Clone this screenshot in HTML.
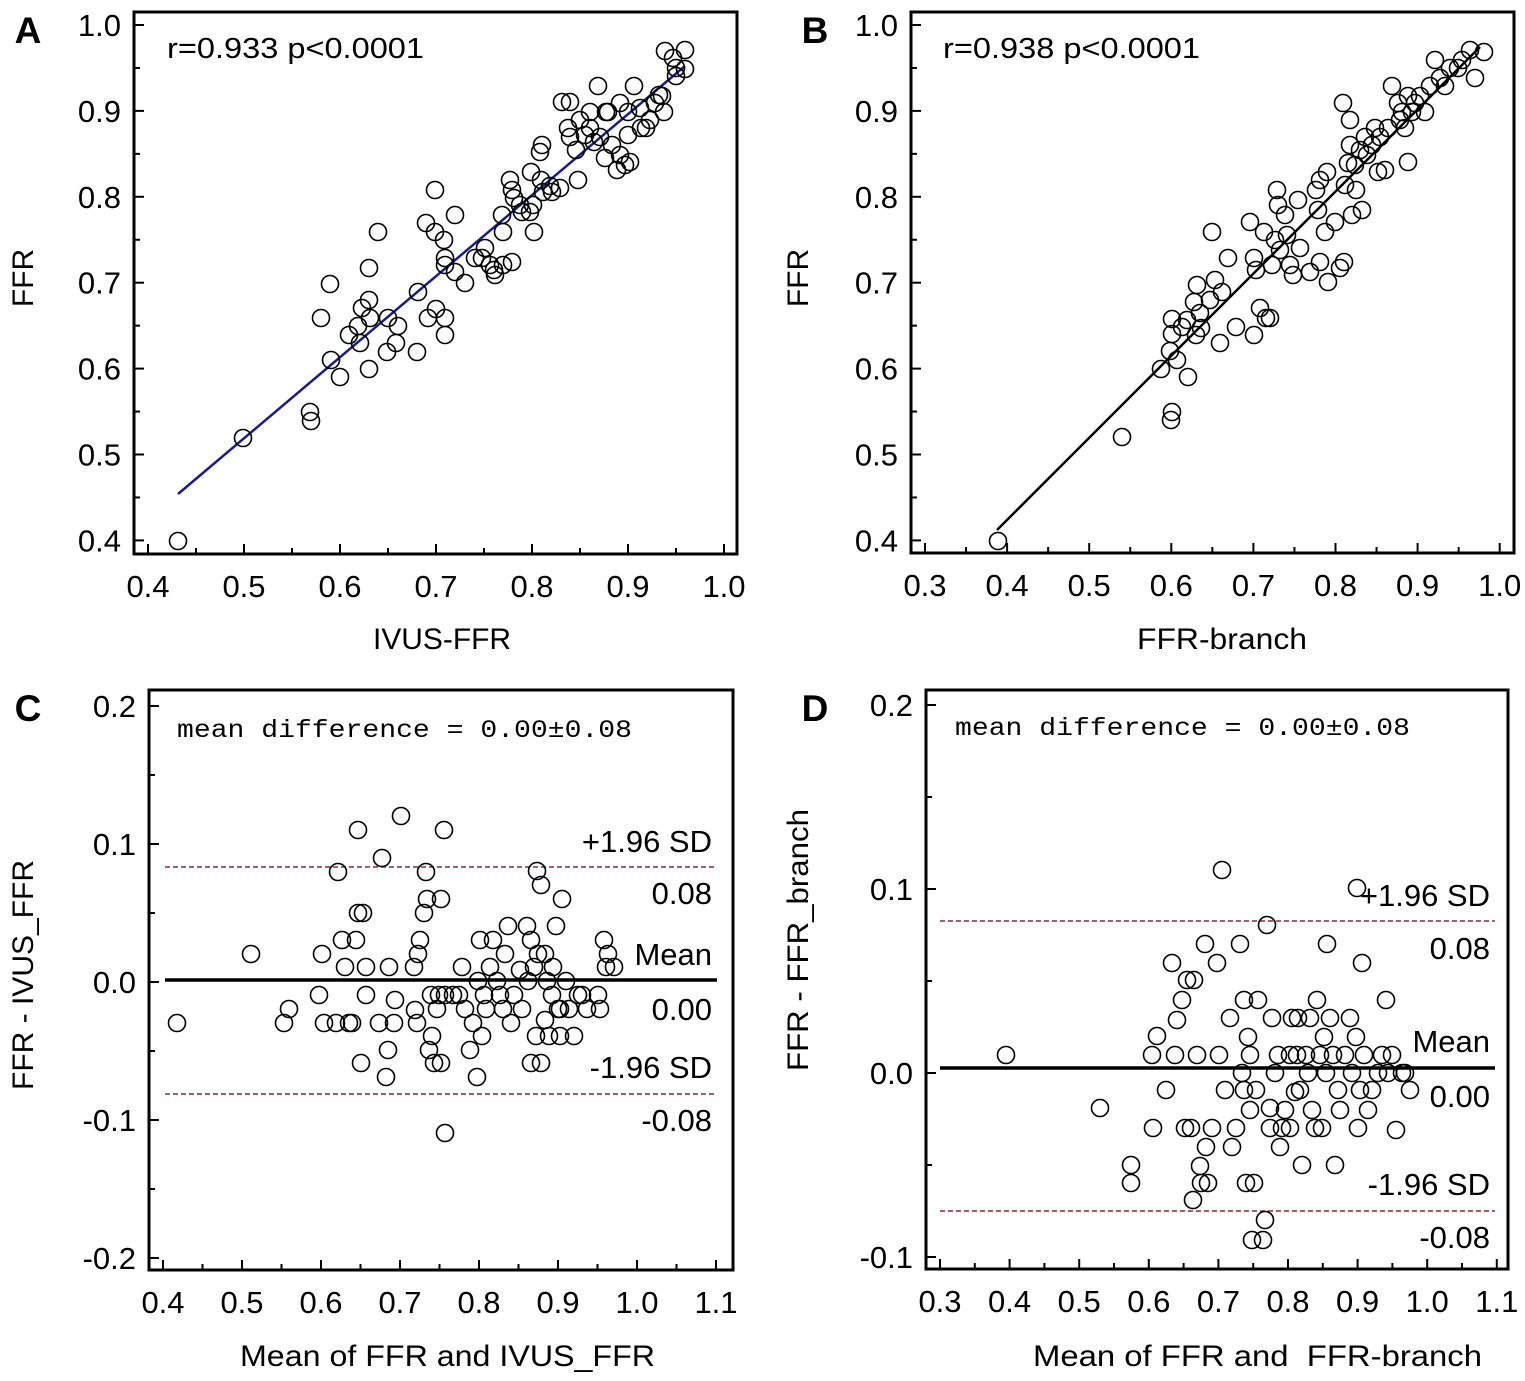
<!DOCTYPE html>
<html><head><meta charset="utf-8"><style>
html,body{margin:0;padding:0;background:#fff}
svg{display:block}
text{font-family:"Liberation Sans",sans-serif;fill:#000}
</style></head><body>
<svg id="s" width="1525" height="1381" viewBox="0 0 1525 1381" xmlns="http://www.w3.org/2000/svg">
<g font-size="30">
<text x="28" y="43" font-weight="bold" font-size="37" text-anchor="middle">A</text>
<text x="815" y="43" font-weight="bold" font-size="37" text-anchor="middle">B</text>
<text x="28" y="721" font-weight="bold" font-size="37" text-anchor="middle">C</text>
<text x="815" y="721" font-weight="bold" font-size="37" text-anchor="middle">D</text>
<text x="373" y="649" textLength="138" lengthAdjust="spacingAndGlyphs">IVUS-FFR</text>
<text x="1137" y="649" textLength="170" lengthAdjust="spacingAndGlyphs">FFR-branch</text>
<text x="240" y="1366" textLength="415" lengthAdjust="spacingAndGlyphs">Mean of FFR and IVUS_FFR</text>
<text x="1033" y="1366" xml:space="preserve" textLength="449" lengthAdjust="spacingAndGlyphs">Mean of FFR and  FFR-branch</text>
<text transform="translate(33,278) rotate(-90)" text-anchor="middle">FFR</text>
<text transform="translate(808,278) rotate(-90)" text-anchor="middle">FFR</text>
<text transform="translate(33,975) rotate(-90)" text-anchor="middle" textLength="230" lengthAdjust="spacingAndGlyphs">FFR - IVUS_FFR</text>
<text transform="translate(808,940) rotate(-90)" text-anchor="middle" textLength="262" lengthAdjust="spacingAndGlyphs">FFR - FFR_branch</text>
<text x="167" y="58" font-size="29" textLength="257" lengthAdjust="spacingAndGlyphs">r=0.933 p&lt;0.0001</text>
<text x="943" y="58" font-size="29" textLength="257" lengthAdjust="spacingAndGlyphs">r=0.938 p&lt;0.0001</text>
</g>
<g font-size="25">
<text x="177" y="737" style="font-family:'Liberation Mono',monospace" textLength="455" lengthAdjust="spacingAndGlyphs">mean difference = 0.00±0.08</text>
<text x="955" y="735" style="font-family:'Liberation Mono',monospace" textLength="455" lengthAdjust="spacingAndGlyphs">mean difference = 0.00±0.08</text>
</g>
<g font-size="31" text-anchor="end">
<text x="712" y="852">+1.96 SD</text><text x="712" y="904">0.08</text>
<text x="712" y="965">Mean</text><text x="712" y="1020">0.00</text>
<text x="712" y="1078">-1.96 SD</text><text x="712" y="1131">-0.08</text>
<text x="1490" y="906">+1.96 SD</text><text x="1490" y="959">0.08</text>
<text x="1490" y="1052">Mean</text><text x="1490" y="1107">0.00</text>
<text x="1490" y="1195">-1.96 SD</text><text x="1490" y="1248">-0.08</text>
</g>
<g id="g"></g>
</svg>
<script>
var NS="http://www.w3.org/2000/svg",G=document.getElementById('g');
function el(t,a,txt){var e=document.createElementNS(NS,t);for(var k in a)e.setAttribute(k,a[k]);if(txt!=null)e.textContent=txt;G.appendChild(e);return e;}
function panel(L,T,R,B,xs,ys){
 el('rect',{x:L,y:T,width:R-L,height:B-T,fill:'none',stroke:'#000','stroke-width':3});
 for(var i=0;i<xs.n;i++){var p=xs.p0+i*xs.step;
  el('line',{x1:p,y1:B,x2:p,y2:B-10,stroke:'#000','stroke-width':2});
  if(i<xs.n-1)el('line',{x1:p+xs.step/2,y1:B,x2:p+xs.step/2,y2:B-6,stroke:'#000','stroke-width':2});
  el('text',{x:p,y:B+43,'font-size':31,'text-anchor':'middle'},(xs.v0+i*0.1).toFixed(1));}
 for(var i=0;i<ys.n;i++){var p=ys.p0+i*ys.step;
  el('line',{x1:L,y1:p,x2:L+10,y2:p,stroke:'#000','stroke-width':2});
  if(i<ys.n-1)el('line',{x1:L,y1:p+ys.step/2,x2:L+6,y2:p+ys.step/2,stroke:'#000','stroke-width':2});
  var v=ys.v0-i*0.1;if(Math.abs(v)<1e-9)v=0;
  el('text',{x:L-13,y:p+11,'font-size':31,'text-anchor':'end'},v.toFixed(1));}
}
function pts(a){for(var i=0;i<a.length;i+=2)el('circle',{cx:a[i],cy:a[i+1],r:8.5,fill:'none',stroke:'#000','stroke-width':1.6});}
panel(134,12,737,554,{v0:0.4,p0:148,step:96,n:7},{v0:1.0,p0:25,step:85.9,n:7});
panel(911,12,1514,553,{v0:0.3,p0:925,step:82.1,n:8},{v0:1.0,p0:25,step:85.9,n:7});
panel(149,690,733,1270,{v0:0.4,p0:163,step:79,n:8},{v0:0.2,p0:706,step:138,n:5});
panel(926,690,1508,1269,{v0:0.3,p0:940,step:69.6,n:9},{v0:0.2,p0:705,step:184,n:4});
el('line',{x1:178,y1:494,x2:685,y2:66,stroke:'#1a1a8c','stroke-width':2.5});
el('line',{x1:997,y1:530,x2:1480,y2:47,stroke:'#000','stroke-width':2.5});
el('line',{x1:165,y1:980,x2:717,y2:980,stroke:'#000','stroke-width':3.5});
el('line',{x1:165,y1:867,x2:717,y2:867,stroke:'#8b2a3a','stroke-width':1.5,'stroke-dasharray':'5,3'});
el('line',{x1:165,y1:1094,x2:717,y2:1094,stroke:'#8b2a3a','stroke-width':1.5,'stroke-dasharray':'5,3'});
el('line',{x1:940,y1:1068,x2:1495,y2:1068,stroke:'#000','stroke-width':3.5});
el('line',{x1:940,y1:921,x2:1495,y2:921,stroke:'#8b2a3a','stroke-width':1.5,'stroke-dasharray':'5,3'});
el('line',{x1:940,y1:1211,x2:1495,y2:1211,stroke:'#8b2a3a','stroke-width':1.5,'stroke-dasharray':'5,3'});
pts([178,541,243,438,310,412,311,421,321,318,330,284,331,360,340,377,349,335,358,326,360,343,362,308,369,268,369,300,369,369,378,232,370,318,388,318,387,352,396,343,398,326,417,352,418,292,426,223,428,318,435,190,435,232,436,309,445,318,445,335,444,240,445,258,445,265,455,215,455,272,465,283,475,258,482,258,485,248,490,265,494,270,495,275,502,215,503,265,503,232,510,180,512,262,512,190,514,198,520,205,522,212,530,212,533,205,531,172,540,152,542,145,541,180,543,192,534,232,550,186,552,192,560,188,562,102,570,102,568,128,570,137,576,150,578,180,580,120,585,135,590,128,594,142,590,112,598,86,600,137,606,112,608,112,605,158,612,145,617,170,620,155,625,165,628,112,628,135,630,162,634,86,641,128,646,128,650,120,655,103,659,95,662,96,664,112,665,51,673,58,676,68,685,50,685,69,676,76,640,108,620,103]);
pts([998,541,1122,437,1161,369,1170,351,1171,420,1172,412,1172,319,1172,334,1177,360,1188,377,1182,327,1187,320,1194,302,1197,285,1200,313,1196,335,1201,328,1210,300,1212,232,1215,280,1220,343,1222,292,1228,258,1236,327,1250,222,1254,258,1256,270,1254,335,1260,308,1264,232,1266,318,1270,318,1272,265,1275,240,1277,190,1278,205,1280,250,1285,215,1287,235,1290,265,1293,275,1300,248,1298,200,1310,272,1320,262,1316,190,1318,210,1320,180,1325,232,1327,172,1328,282,1335,222,1340,268,1343,103,1344,262,1345,185,1348,163,1350,120,1350,145,1352,215,1355,165,1356,190,1360,150,1362,210,1365,137,1367,155,1372,145,1375,128,1378,172,1380,137,1385,170,1388,128,1392,86,1398,103,1400,120,1402,112,1405,128,1408,96,1408,162,1412,112,1415,103,1420,96,1425,112,1430,86,1435,60,1440,78,1445,86,1450,68,1458,68,1462,60,1470,50,1475,78,1484,52]);
pts([177,1023,251,954,284,1023,289,1009,319,995,322,954,336,1023,338,872,342,940,345,967,349,1023,352,1023,356,940,358,913,358,830,361,1063,363,913,366,967,366,995,379,1023,382,858,386,1077,388,1050,389,967,394,1023,401,816,414,967,417,1023,418,954,420,940,424,913,426,872,427,899,429,1050,431,995,432,1036,434,1063,437,1009,439,995,441,899,441,1063,444,830,445,995,453,995,459,995,462,967,465,1009,473,1023,477,1077,478,981,480,940,482,1036,484,995,486,1009,490,967,493,940,497,981,500,995,503,1009,505,954,508,926,511,1023,514,995,522,1009,527,926,528,981,531,940,531,1063,534,967,536,1036,537,871,538,954,541,885,541,1063,545,954,547,981,549,1036,552,995,553,967,556,926,558,1009,560,1036,562,899,566,981,569,1009,574,1036,578,995,582,995,587,1009,598,995,604,940,606,967,608,954,614,967,445,1133,470,1050,560,1009,520,970,545,1020,600,1009,415,1010,395,1000,324,1023]);
pts([1006,1055,1100,1108,1131,1165,1131,1183,1152,1055,1153,1128,1157,1036,1166,1090,1172,963,1175,1055,1177,1020,1182,1000,1185,1128,1187,980,1191,1128,1193,1200,1194,980,1197,1055,1200,1166,1201,1183,1205,944,1206,1147,1208,1183,1212,1128,1217,963,1219,1055,1222,870,1225,1090,1230,1018,1232,1147,1236,1128,1240,944,1242,1073,1244,1090,1244,1000,1246,1183,1248,1037,1250,1055,1250,1110,1252,1240,1254,1183,1256,1090,1258,1000,1263,1240,1265,1220,1267,925,1270,1128,1272,1018,1275,1073,1278,1055,1280,1147,1282,1128,1285,1110,1290,1128,1292,1018,1295,1092,1297,1055,1300,1090,1302,1165,1306,1055,1308,1073,1310,1018,1312,1110,1315,1128,1317,1000,1320,1055,1322,1128,1324,1037,1326,1073,1327,944,1330,1018,1333,1055,1335,1165,1338,1090,1340,1110,1345,1055,1350,1018,1352,1073,1356,1037,1358,1128,1360,1090,1362,963,1364,1055,1368,1110,1372,1090,1378,1073,1382,1055,1386,1000,1388,1073,1392,1055,1396,1130,1402,1073,1405,1073,1410,1090,1298,1018,1270,1108,1290,1055,1357,888]);
</script>
</body></html>
